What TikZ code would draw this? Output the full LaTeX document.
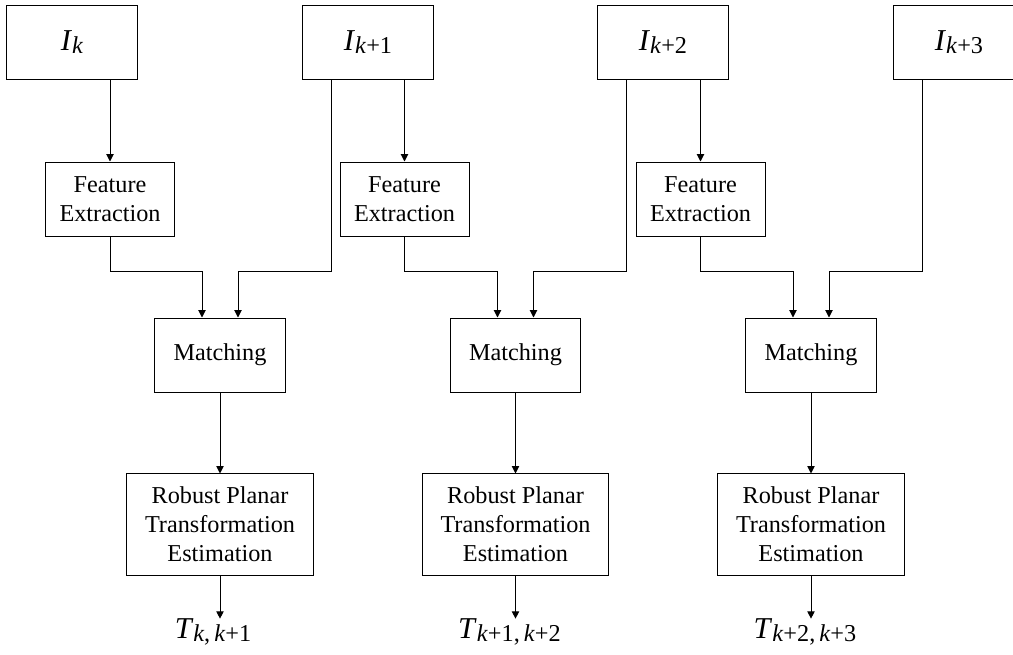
\documentclass[tikz,border=0pt]{standalone}
\usepackage{fontspec}
\setmainfont{Liberation Serif}
\usetikzlibrary{arrows.meta,calc}

% lowered index for the frame and transform labels
\newcommand{\subidx}[1]{\raisebox{-1.2pt}{\fontsize{10}{11}\selectfont#1}}

\begin{document}
\begin{tikzpicture}
        [x=0.0145cm, y=-0.0145cm, >={Triangle[length=3pt,width=3pt]},
         every node/.style={font=\fontsize{10}{12}\selectfont},
         box/.style={draw, align=center, inner sep=0pt},
         imgbox/.style={box, minimum width=1.885cm, minimum height=1.06cm, font=\fontsize{12.5}{14}\selectfont},
         featbox/.style={box, minimum width=1.87cm, minimum height=1.073cm},
         matchbox/.style={box, minimum width=1.885cm, minimum height=1.073cm},
         estbox/.style={box, minimum width=2.697cm, minimum height=1.465cm},
         result/.style={inner sep=0pt, anchor=base, font=\fontsize{12.5}{14}\selectfont}]

        \useasboundingbox (0,0) rectangle (1013,655);

        \node[imgbox] (I0) at (72, 42.5) {\textit{I}\subidx{\textit{k}}};
        \node[imgbox] (I1) at (368, 42.5) {\textit{I}\subidx{\textit{k}+1}};
        \node[imgbox] (I2) at (663, 42.5) {\textit{I}\subidx{\textit{k}+2}};
        \node[imgbox] (I3) at (959, 42.5) {\textit{I}\subidx{\textit{k}+3}};

        \node[featbox] (F1) at (110, 199) {Feature\\Extraction};
        \node[featbox] (F2) at (404.5, 199) {Feature\\Extraction};
        \node[featbox] (F3) at (700.5, 199) {Feature\\Extraction};

        \node[matchbox] (M1) at (220, 355) {Matching};
        \node[matchbox] (M2) at (515.5, 355) {Matching};
        \node[matchbox] (M3) at (811, 355) {Matching};

        \node[estbox] (E1) at (220, 524.5) {Robust Planar\\Transformation\\Estimation};
        \node[estbox] (E2) at (515.5, 524.5) {Robust Planar\\Transformation\\Estimation};
        \node[estbox] (E3) at (811, 524.5) {Robust Planar\\Transformation\\Estimation};

        \node[result] (T1) at (213, 639) {\textit{T}\subidx{\textit{k},\,\textit{k}+1}};
        \node[result] (T2) at (509.5, 639) {\textit{T}\subidx{\textit{k}+1,\,\textit{k}+2}};
        \node[result] (T3) at (805, 639) {\textit{T}\subidx{\textit{k}+2,\,\textit{k}+3}};

        \draw[->] (F1 |- I0.south) -- (F1.north);
        \draw[->] (F2 |- I1.south) -- (F2.north);
        \draw[->] (F3 |- I2.south) -- (F3.north);

        \draw[->] (F1.south) |- ($(M1.north)+(-18,-46)$) -- ($(M1.north)+(-18,0)$);
        \draw[->] ($(I1.south)+(-37,0)$) |- ($(M1.north)+(18,-46)$) -- ($(M1.north)+(18,0)$);
        \draw[->] (F2.south) |- ($(M2.north)+(-18,-46)$) -- ($(M2.north)+(-18,0)$);
        \draw[->] ($(I2.south)+(-37,0)$) |- ($(M2.north)+(18,-46)$) -- ($(M2.north)+(18,0)$);
        \draw[->] (F3.south) |- ($(M3.north)+(-18,-46)$) -- ($(M3.north)+(-18,0)$);
        \draw[->] ($(I3.south)+(-37,0)$) |- ($(M3.north)+(18,-46)$) -- ($(M3.north)+(18,0)$);

        \draw[->] (M1.south) -- (E1.north);
        \draw[->] (M2.south) -- (E2.north);
        \draw[->] (M3.south) -- (E3.north);

        \draw[->] (E1.south) -- (E1.south |- T1.north);
        \draw[->] (E2.south) -- (E2.south |- T2.north);
        \draw[->] (E3.south) -- (E3.south |- T3.north);

      \end{tikzpicture}
\end{document}
